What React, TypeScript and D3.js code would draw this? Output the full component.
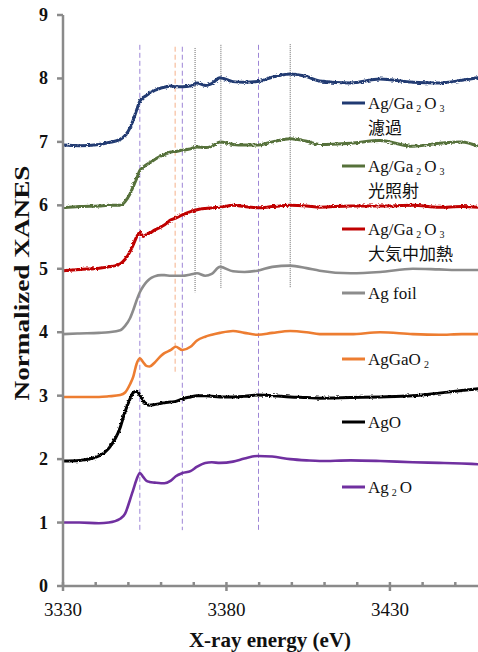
import React from "react";
import * as d3 from "d3";

// energy grid (eV) shared by all spectra
const energy = [
  3330, 3335, 3341, 3344, 3347.5, 3349, 3350.5, 3351.5, 3352.5, 3353.5, 3354.5, 3355.5, 3356.5,
  3358, 3360, 3361, 3363, 3364.5, 3366.5, 3369, 3371, 3373.5, 3375.5, 3378, 3382, 3385.5,
  3389.5, 3394, 3399.5, 3404.5, 3408.5, 3418, 3427, 3437, 3445, 3452, 3457,
];

// normalized XANES, already offset
const filtered = [
  6.95, 6.94, 6.96, 6.99, 7.04, 7.1, 7.22, 7.35, 7.5, 7.64, 7.7, 7.73, 7.77, 7.81, 7.85, 7.86,
  7.88, 7.87, 7.87, 7.88, 7.93, 7.89, 7.92, 8.01, 7.95, 7.94, 7.95, 8.02, 8.07, 8.03, 7.96,
  7.93, 7.99, 7.94, 7.93, 7.97, 8.01,
];
const irradiated = [
  5.96, 5.98, 5.99, 6.0, 6.0, 6.06, 6.18, 6.3, 6.42, 6.55, 6.6, 6.64, 6.67, 6.72, 6.78, 6.8,
  6.84, 6.85, 6.87, 6.89, 6.92, 6.91, 6.93, 7.0, 6.96, 6.95, 6.95, 7.0, 7.05, 7.01, 6.96,
  6.98, 7.02, 6.93, 6.98, 7.0, 6.93,
];
const heatedInAir = [
  4.97, 4.99, 5.01, 5.03, 5.08, 5.15, 5.27, 5.38, 5.5, 5.57, 5.51, 5.54, 5.56, 5.61, 5.66, 5.69,
  5.77, 5.8, 5.85, 5.9, 5.93, 5.95, 5.96, 5.97, 6.0, 5.98, 5.96, 5.98, 6.0, 5.99, 5.97, 5.99,
  5.99, 6.0, 5.97, 5.98, 5.97,
];
const agFoil = [
  3.97, 3.98, 3.99, 4.0, 4.03, 4.1, 4.22, 4.35, 4.5, 4.63, 4.72, 4.79, 4.84, 4.88, 4.9, 4.9,
  4.89, 4.89, 4.89, 4.91, 4.93, 4.89, 4.92, 5.03, 4.96, 4.95, 4.97, 5.03, 5.05, 5.01, 4.97,
  4.93, 4.95, 5.0, 4.99, 4.98, 4.98,
];
const agGaO2 = [
  2.98, 2.98, 2.98, 2.99, 3.01, 3.05, 3.18, 3.3, 3.5, 3.59, 3.53, 3.47, 3.46, 3.52, 3.63, 3.67,
  3.72, 3.77, 3.72, 3.77, 3.87, 3.93, 3.96, 3.99, 4.02, 3.99, 3.96, 3.99, 4.02, 4.0, 3.97,
  3.97, 4.0, 3.97, 3.96, 3.97, 3.97,
];
const agO = [
  1.97, 1.98, 2.05, 2.17, 2.5, 2.75, 2.95, 3.05, 3.07, 3.01, 2.92, 2.87, 2.85, 2.86, 2.88, 2.89,
  2.9, 2.91, 2.95, 2.98, 3.0, 3.0, 2.99, 2.98, 2.98, 2.99, 3.01, 3.0, 2.98, 2.97, 2.96, 2.97,
  2.98, 3.0, 3.04, 3.08, 3.11,
];
const ag2O = [
  1.0, 1.0, 0.99, 1.0, 1.06, 1.14, 1.36, 1.52, 1.68, 1.78, 1.72, 1.66, 1.64, 1.63, 1.62, 1.62,
  1.66, 1.73, 1.78, 1.81, 1.88, 1.94, 1.95, 1.94, 1.96, 2.01, 2.05, 2.04, 2.0, 1.98, 1.97,
  1.98, 1.97, 1.95, 1.94, 1.93, 1.92,
];

const seriesValues = [filtered, irradiated, heatedInAir, agFoil, agGaO2, agO, ag2O];
const seriesLabels = [
  ["Ag/Ga2O3", "濾過"],
  ["Ag/Ga2O3", "光照射"],
  ["Ag/Ga2O3", "大気中加熱"],
  ["Ag foil"],
  ["AgGaO2"],
  ["AgO"],
  ["Ag2O"],
];
const seriesColors = ["#203a72", "#56713a", "#c00000", "#8c8c8c", "#ed7d31", "#000000", "#7030a0"];
// measured (noisy) spectra vs. smooth references
const seriesNoisy = [true, true, true, false, false, true, false];

// guide lines: energy, bottom value, top value, kind
const guideEnergy = [3353.5, 3364.3, 3366.5, 3370.4, 3378.3, 3389.8, 3399.5];
const guideBottom = [0.88, 3.37, 0.88, 4.63, 4.7, 0.88, 4.7];
const guideTop = [8.53, 8.5, 8.5, 8.48, 8.53, 8.53, 8.54];
const guideKind = ["purple", "orange", "purple", "black", "black", "purple", "black"];

const xTicks = d3.range(3330, 3460, 10);
const xLabels = [3330, 3380, 3430];
const yTicks = d3.range(0, 10);

const guideStyle: Record<string, { stroke: string; dash: string; width: number }> = {
  purple: { stroke: "#9d85d6", dash: "5,3", width: 1 },
  orange: { stroke: "#f5b08a", dash: "5,3", width: 1 },
  black: { stroke: "#444", dash: "1,1", width: 0.8 },
};

const serif = "Liberation Serif";
const cjk = "Noto Sans CJK JP";
const axisColor = "#8a8a8a";

// splits "Ag/Ga2O3" into normal text and small lowered digits
function Formula({ text }: { text: string }) {
  const parts = text.split(/(\d)/).filter((p) => p !== "");
  let lowered = false;
  return (
    <>
      {parts.map((p, i) => {
        const isSub = /\d/.test(p);
        let dy = 0;
        if (isSub && !lowered) { dy = 3; lowered = true; }
        else if (!isSub && lowered) { dy = -3; lowered = false; }
        const dx = isSub || (i > 0 && /\d/.test(parts[i - 1])) ? 3 : 0;
        return (
          <tspan key={i} dy={dy} dx={dx} fontSize={isSub ? 10 : undefined}>
            {p}
          </tspan>
        );
      })}
    </>
  );
}

export default function App() {
  const x = d3.scaleLinear().domain([3330, 3460]).range([63, 488]);
  const y = d3.scaleLinear().domain([0, 9]).range([586, 15]);

  const line = d3
    .line<number>()
    .x((_, i) => x(energy[i]))
    .y((d) => y(d))
    .curve(d3.curveMonotoneX);

  // legend rows (line sample y)
  const legendY = [103, 166, 229, 293, 359, 422, 487];

  return (
    <svg width={478} height={652} style={{ position: "absolute", left: 0, top: 0 }} fontFamily={serif}>
      <defs>
        <filter id="jitter" x="-5%" y="-20%" width="110%" height="140%">
          <feTurbulence type="fractalNoise" baseFrequency="0.35 0.9" numOctaves={2} seed={4} result="n" />
          <feDisplacementMap in="SourceGraphic" in2="n" scale={3} xChannelSelector="R" yChannelSelector="G" />
        </filter>
      </defs>
      <rect width={478} height={652} fill="#fff" />

      {/* guide lines */}
      {guideEnergy.map((e, i) => {
        const s = guideStyle[guideKind[i]];
        return (
          <line key={i} x1={x(e)} x2={x(e)} y1={y(guideTop[i])} y2={y(guideBottom[i])}
            stroke={s.stroke} strokeWidth={s.width} strokeDasharray={s.dash} />
        );
      })}

      {/* spectra */}
      {seriesValues.map((vals, i) => (
        <path key={i} d={line(vals) || ""} fill="none" stroke={seriesColors[i]}
          strokeWidth={seriesNoisy[i] ? 3 : 2.6} strokeLinejoin="round"
          filter={seriesNoisy[i] ? "url(#jitter)" : undefined} />
      ))}

      {/* axes */}
      <g stroke={axisColor} strokeWidth={2.5}>
        <line x1={63} x2={63} y1={y(9)} y2={y(0)} />
        <line x1={62} x2={478} y1={y(0)} y2={y(0)} />
        {yTicks.map((t) => (
          <line key={t} x1={57} x2={63} y1={y(t)} y2={y(t)} />
        ))}
        {xTicks.map((t) => {
          const major = xLabels.includes(t);
          return (
            <line key={t} x1={x(t)} x2={x(t)} y1={y(0) - 4} y2={y(0) + (major ? 5 : 0)} />
          );
        })}
      </g>
      {yTicks.map((t) => (
        <text key={t} x={48} y={y(t) + 6} textAnchor="end" fontSize={18} fontWeight="bold" fill="#111">
          {t}
        </text>
      ))}
      {xLabels.map((t) => (
        <text key={t} x={x(t)} y={616} textAnchor="middle" fontSize={19} fill="#111">
          {t}
        </text>
      ))}
      <text x={270} y={647} textAnchor="middle" fontSize={21} fill="#111" fontWeight="bold">
        X-ray energy (eV)
      </text>
      <text transform="translate(29,283) rotate(-90)" textAnchor="middle" fontSize={21} fontWeight="bold"
        fill="#111" textLength={235} lengthAdjust="spacingAndGlyphs">
        Normalized XANES
      </text>

      {/* legend */}
      {seriesLabels.map((lines, i) => (
        <g key={i}>
          <line x1={342} x2={365} y1={legendY[i]} y2={legendY[i]} stroke={seriesColors[i]} strokeWidth={3} />
          {lines.map((l, j) => (
            <text key={j} x={368} y={legendY[i] + 6 + j * 25} fontSize={17} fill="#111"
              fontFamily={j === 0 ? serif : cjk}>
              {j === 0 ? <Formula text={l} /> : l}
            </text>
          ))}
        </g>
      ))}
    </svg>
  );
}
